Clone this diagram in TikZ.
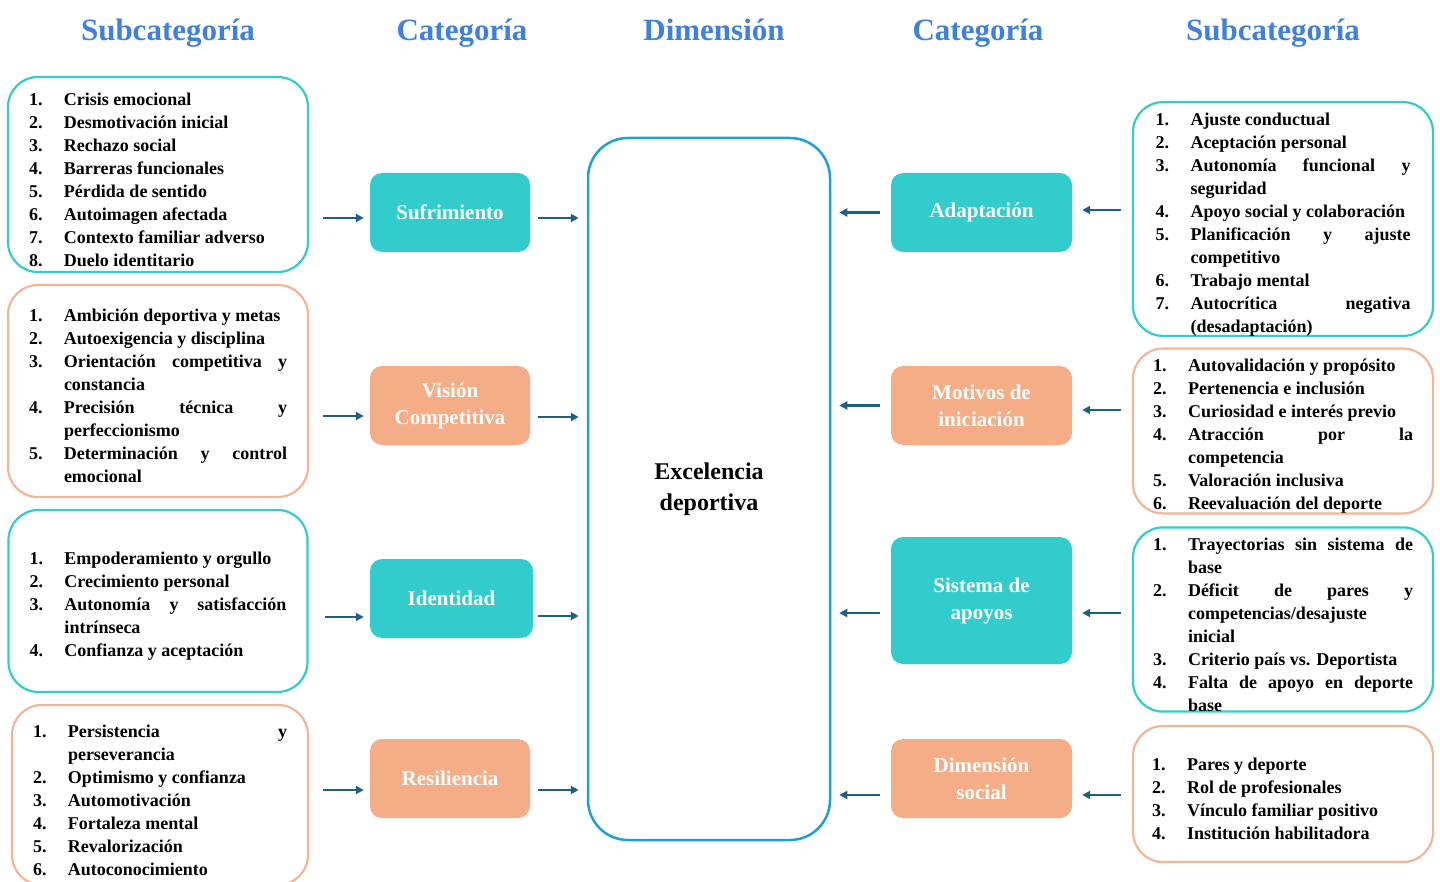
\documentclass[tikz,border=0pt]{standalone}
\usepackage{fontspec}
\setmainfont{Liberation Serif}
\usetikzlibrary{positioning,arrows.meta}
\definecolor{headblue}{HTML}{3F7FDD}
\definecolor{tealbox}{HTML}{33CCCC}
\definecolor{orangebox}{HTML}{F4AD86}
\definecolor{orangeline}{HTML}{F4B594}
\definecolor{dimblue}{HTML}{1BA0DA}
\definecolor{arrowblue}{HTML}{1F5F82}
\newcommand{\itm}[2]{\par\tolerance=10000\hangindent=35pt\hangafter=1\noindent\makebox[35pt][l]{#1}#2\par}

\begin{document}
\begin{tikzpicture}[x=1pt,y=-1pt,
    header/.style={anchor=base, text=headblue, font=\fontsize{31}{36}\selectfont\bfseries},
    subbox/.style={draw=#1, line width=2.2pt, rounded corners=30pt, text width=258pt,
      inner xsep=21pt, inner ysep=0pt, align=justify,
      font=\fontsize{18}{23}\selectfont\bfseries},
    catbox/.style={fill=#1, rounded corners=12pt, text=white, minimum width=160pt,
      minimum height=79pt, align=center, font=\fontsize{21}{27}\selectfont\bfseries},
    arr/.style={draw=arrowblue, line width=2.2pt, -{Triangle[length=8pt,width=8pt]}}]
  \useasboundingbox (0,0) rectangle (1440,882);
  \clip (0,0) rectangle (1440,882);

  % headers
  \node[header] (h1) at (168,41) {Subcategoría};
  \node[header] (h2) at (462,41) {Categoría};
  \node[header] (h3) at (714,41) {Dimensión};
  \node[header] (h4) at (978,41) {Categoría};
  \node[header] (h5) at (1273,41) {Subcategoría};

  % dimension
  \node[draw=dimblue, line width=2.5pt, rounded corners=40pt, minimum width=242pt,
    minimum height=702pt, align=center, font=\fontsize{24}{31}\selectfont\bfseries]
    (dim) at (709,489) {Excelencia\\deportiva};

  % left categories
  \node[catbox=tealbox] (suf) at (450,212.5) {Sufrimiento};
  \node[catbox=orangebox] (vis) at (450,405.5) {Visión\\Competitiva};
  \node[catbox=tealbox, minimum width=163pt] (ide) at (451.5,598.5) {Identidad};
  \node[catbox=orangebox] (res) at (450,778.5) {Resiliencia};

  % right categories
  \node[catbox=tealbox, minimum width=181pt] (ada) at (981.5,212.5) {Adaptación};
  \node[catbox=orangebox, minimum width=181pt] (mot) at (981.5,405.5) {Motivos de\\iniciación};
  \node[catbox=tealbox, minimum width=181pt, minimum height=127pt] (sis) at (981.5,600.5) {Sistema de\\apoyos};
  \node[catbox=orangebox, minimum width=181pt] (soc) at (981.5,778.5) {Dimensión\\social};

  % left subcategories
  \node[subbox=tealbox, minimum height=195pt] (s1) at (158,174.5) {%
    \itm{1.}{Crisis emocional}
    \itm{2.}{Desmotivación inicial}
    \itm{3.}{Rechazo social}
    \itm{4.}{Barreras funcionales}
    \itm{5.}{Pérdida de sentido}
    \itm{6.}{Autoimagen afectada}
    \itm{7.}{Contexto familiar adverso}
    \itm{8.}{Duelo identitario}};
  \node[subbox=orangeline, minimum height=212pt] (s2) at (158,391) {%
    \itm{1.}{Ambición deportiva y metas}
    \itm{2.}{Autoexigencia y disciplina}
    \itm{3.}{Orientación competitiva y\linebreak constancia}
    \itm{4.}{Precisión técnica y\linebreak perfeccionismo}
    \itm{5.}{Determinación y control\linebreak emocional}};
  \node[subbox=tealbox, minimum height=182pt, text width=257pt] (s3) at (158,601) {%
    \itm{1.}{Empoderamiento y orgullo}
    \itm{2.}{Crecimiento personal}
    \itm{3.}{Autonomía y satisfacción\linebreak intrínseca}
    \itm{4.}{Confianza y aceptación}};
  \node[subbox=orangeline, minimum height=180pt, text width=254pt] (s4) at (160,795) {%
    \itm{1.}{Persistencia y\linebreak perseverancia}
    \itm{2.}{Optimismo y confianza}
    \itm{3.}{Automotivación}
    \itm{4.}{Fortaleza mental}
    \itm{5.}{Revalorización}
    \itm{6.}{Autoconocimiento}};

  % right subcategories
  \node[subbox=tealbox, minimum height=232pt, text width=255pt, inner xsep=22.5pt] (r1) at (1283,219) {%
    \itm{1.}{Ajuste conductual}
    \itm{2.}{Aceptación personal}
    \itm{3.}{Autonomía funcional y\linebreak seguridad}
    \itm{4.}{Apoyo social y colaboración}
    \itm{5.}{Planificación y ajuste\linebreak competitivo}
    \itm{6.}{Trabajo mental}
    \itm{7.}{Autocrítica negativa\linebreak (desadaptación)}};
  \node[subbox=orangeline, minimum height=162pt, text width=260pt, inner xsep=20pt] (r2) at (1283,431) {%
    \itm{1.}{Autovalidación y propósito}
    \itm{2.}{Pertenencia e inclusión}
    \itm{3.}{Curiosidad e interés previo}
    \itm{4.}{Atracción por la\linebreak competencia}
    \itm{5.}{Valoración inclusiva}
    \itm{6.}{Reevaluación del deporte}};
  \node[subbox=tealbox, minimum height=183pt, text width=260pt, inner xsep=20pt] (r3) at (1283,619.5) {%
    \itm{1.}{Trayectorias sin sistema de\linebreak base}
    \itm{2.}{Déficit de pares y\linebreak competencias/desajuste\newline inicial}
    \itm{3.}{Criterio país vs. Deportista}
    \itm{4.}{Falta de apoyo en deporte\linebreak base}};
  \node[subbox=orangeline, minimum height=136pt, text width=262pt, inner xsep=19pt] (r4) at (1283,794) {%
    \itm{1.}{Pares y deporte}
    \itm{2.}{Rol de profesionales}
    \itm{3.}{Vínculo familiar positivo}
    \itm{4.}{Institución habilitadora}};

  % arrows left
  \draw[arr, shorten <=14pt, shorten >=6pt] ([yshift=-5.5pt]s1.east |- suf.west) -- ([yshift=-5.5pt]suf.west);
  \draw[arr, shorten <=14pt, shorten >=6pt] ([yshift=-10.5pt]s2.east |- vis.west) -- ([yshift=-10.5pt]vis.west);
  \draw[arr, shorten <=16pt, shorten >=6pt] ([yshift=-18.5pt]s3.east |- ide.west) -- ([yshift=-18.5pt]ide.west);
  \draw[arr, shorten <=14pt, shorten >=6pt] ([yshift=-11.5pt]s4.east |- res.west) -- ([yshift=-11.5pt]res.west);
  \draw[arr, shorten <=8pt, shorten >=8pt] ([yshift=-5.5pt]suf.east) -- ([yshift=-5.5pt]suf.east -| dim.west);
  \draw[arr, shorten <=8pt, shorten >=8pt] ([yshift=-11.5pt]vis.east) -- ([yshift=-11.5pt]vis.east -| dim.west);
  \draw[arr, shorten <=5pt, shorten >=8pt] ([yshift=-17.5pt]ide.east) -- ([yshift=-17.5pt]ide.east -| dim.west);
  \draw[arr, shorten <=8pt, shorten >=8pt] ([yshift=-11.5pt]res.east) -- ([yshift=-11.5pt]res.east -| dim.west);

  % arrows right
  \draw[arr, shorten <=11pt, shorten >=8pt] (ada.west) -- (ada.west -| dim.east);
  \draw[arr, shorten <=11pt, shorten >=8pt] (mot.west) -- (mot.west -| dim.east);
  \draw[arr, shorten <=11pt, shorten >=8pt] ([yshift=-12.5pt]sis.west) -- ([yshift=-12.5pt]sis.west -| dim.east);
  \draw[arr, shorten <=11pt, shorten >=8pt] ([yshift=-16.5pt]soc.west) -- ([yshift=-16.5pt]soc.west -| dim.east);
  \draw[arr, shorten <=11pt, shorten >=10pt] ([yshift=2.5pt]r1.west |- ada.east) -- ([yshift=2.5pt]ada.east);
  \draw[arr, shorten <=11pt, shorten >=10pt] ([yshift=-4.5pt]r2.west |- mot.east) -- ([yshift=-4.5pt]mot.east);
  \draw[arr, shorten <=11pt, shorten >=10pt] ([yshift=-12.5pt]r3.west |- sis.east) -- ([yshift=-12.5pt]sis.east);
  \draw[arr, shorten <=11pt, shorten >=10pt] ([yshift=-16.5pt]r4.west |- soc.east) -- ([yshift=-16.5pt]soc.east);
\end{tikzpicture}
\end{document}
